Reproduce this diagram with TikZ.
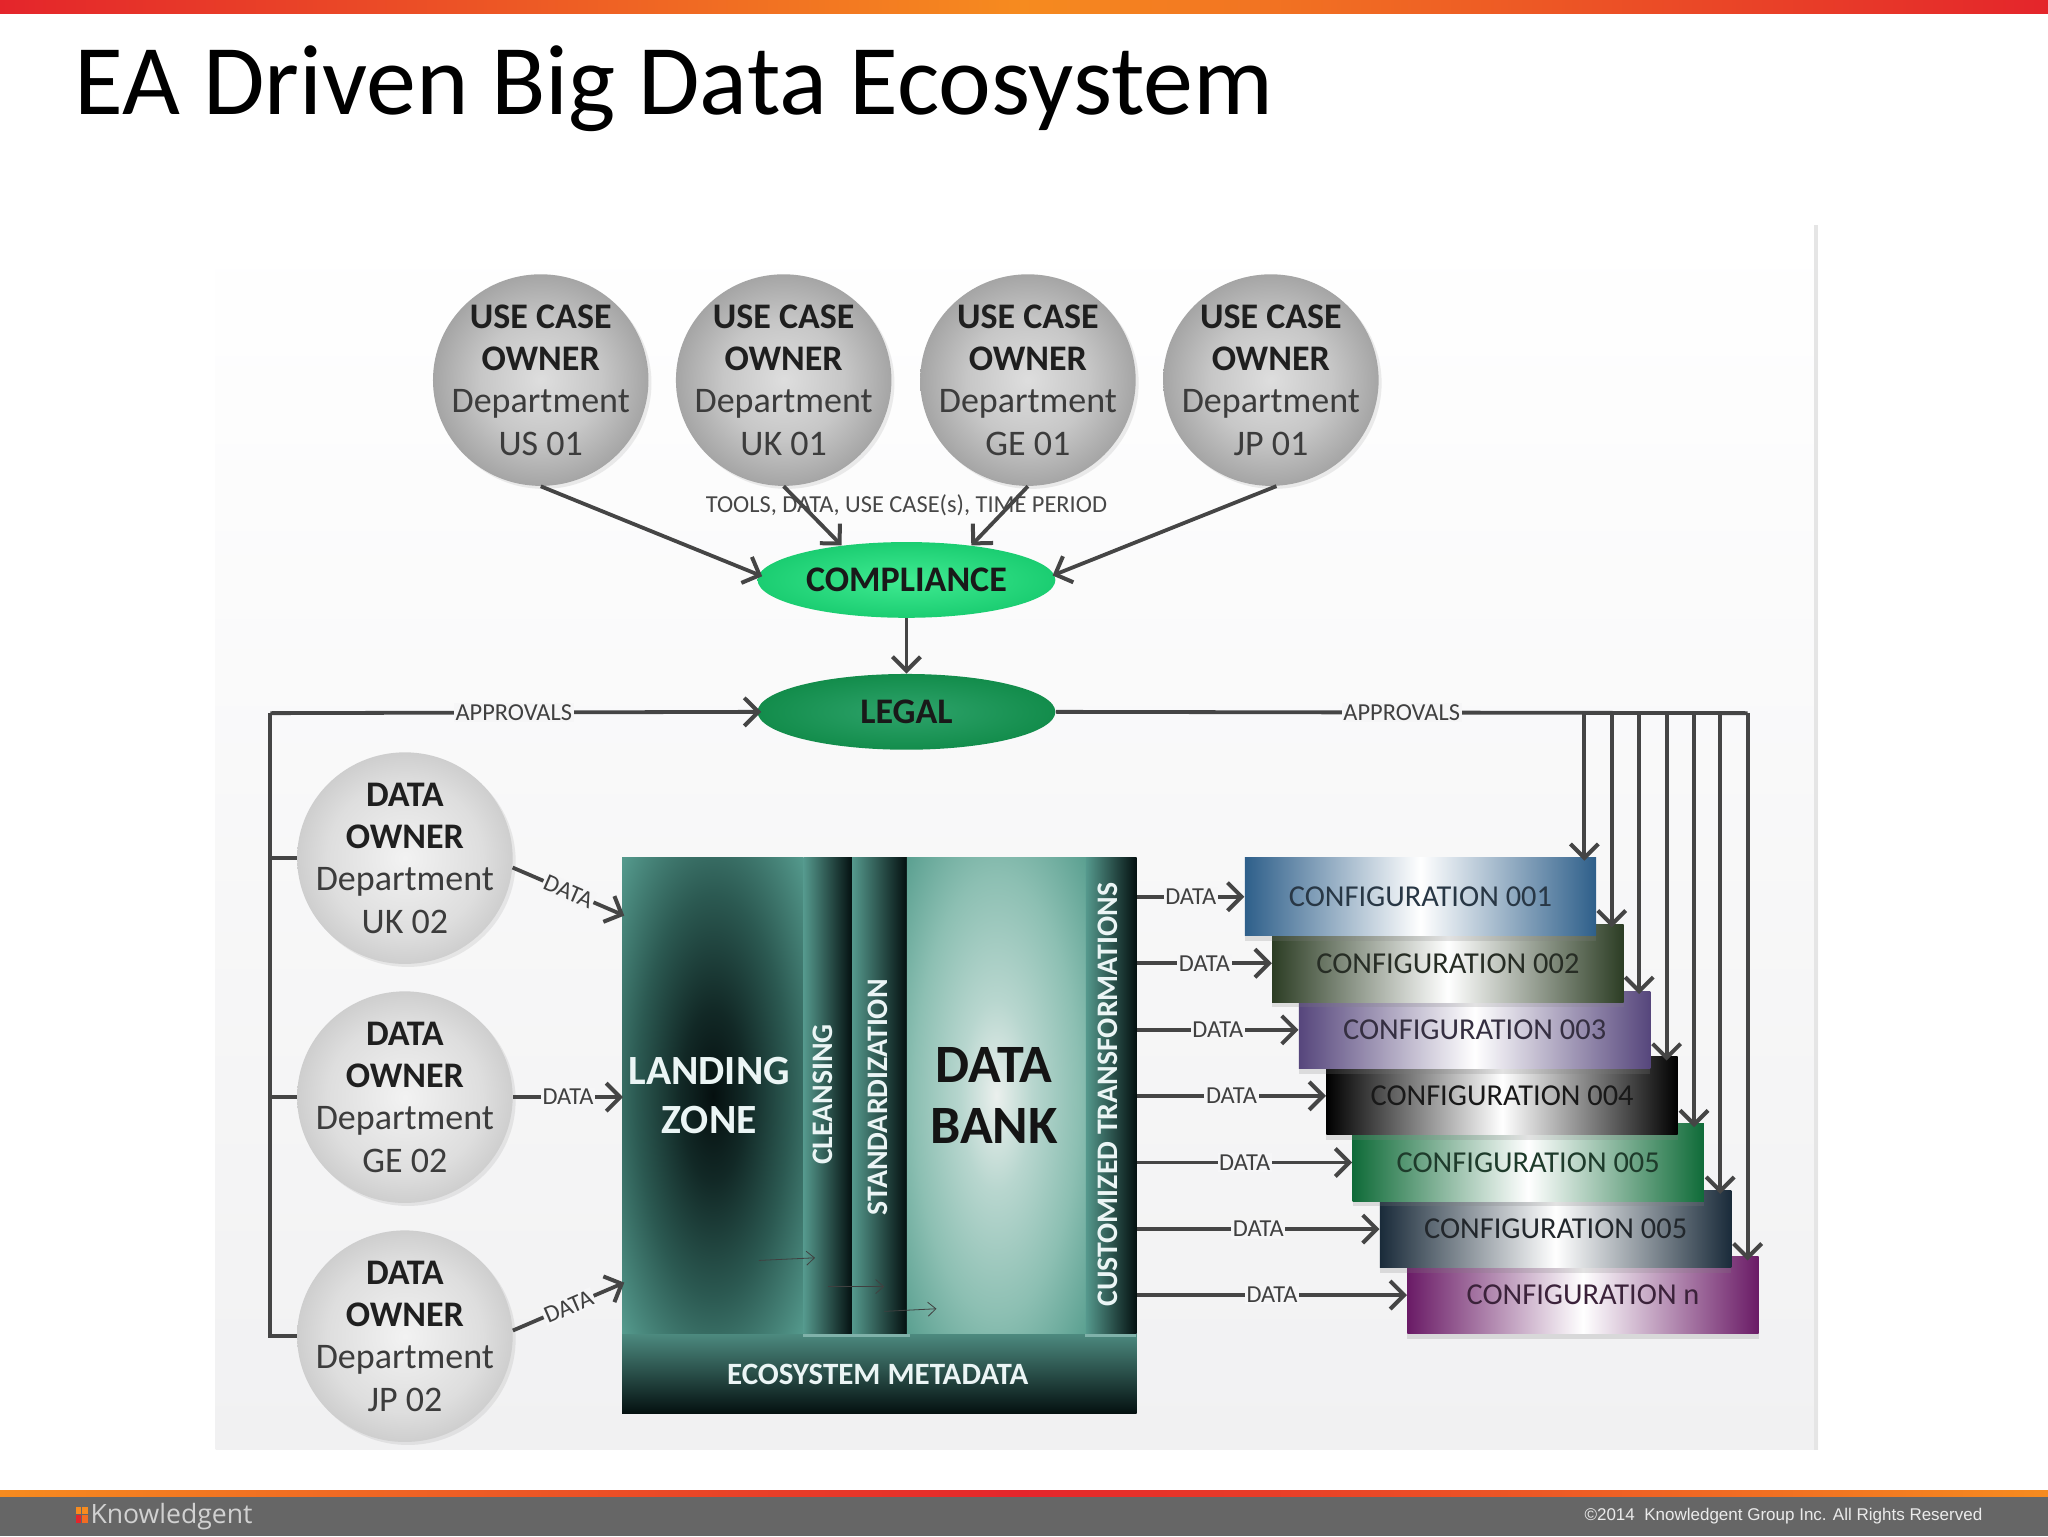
\documentclass[tikz,border=0pt]{standalone}
\usepackage{fontspec}
\setmainfont{Carlito}
\newfontfamily\footfont{Liberation Sans}
\newfontfamily\logofont{Open Sans}
\usetikzlibrary{arrows.meta,shadows,positioning,shapes.geometric}
\definecolor{panelc}{HTML}{F6F6F7}
\definecolor{panelbot}{HTML}{F1F1F2}
\definecolor{inkc}{HTML}{454545}
\definecolor{deptc}{HTML}{3C3C3C}
\definecolor{tealc}{HTML}{55998D}
\definecolor{darkc}{HTML}{041010}
\definecolor{redbar}{HTML}{E4252B}
\definecolor{orbar}{HTML}{F68B1F}
\definecolor{footc}{HTML}{666666}
\definecolor{magc}{HTML}{6A1B66}
\definecolor{navyc}{HTML}{1A2B3A}
\definecolor{greenc}{HTML}{0F6B38}
\definecolor{purpc}{HTML}{56467C}
\definecolor{olivec}{HTML}{2C3D24}
\definecolor{bluec}{HTML}{2E5F8A}
\pgfdeclareradialshading{ucball}{\pgfpoint{0bp}{0bp}}{rgb(0bp)=(0.87,0.87,0.87);rgb(14bp)=(0.78,0.78,0.78);rgb(28bp)=(0.61,0.61,0.61);rgb(35bp)=(0.52,0.52,0.52);rgb(50bp)=(0.52,0.52,0.52)}
\pgfdeclareradialshading{doball}{\pgfpoint{0bp}{0bp}}{rgb(0bp)=(0.95,0.95,0.95);rgb(18bp)=(0.87,0.87,0.87);rgb(35bp)=(0.72,0.72,0.72);rgb(50bp)=(0.72,0.72,0.72)}
\pgfdeclareradialshading{compball}{\pgfpoint{0bp}{0bp}}{rgb(0bp)=(0.25,0.92,0.57);rgb(26bp)=(0.10,0.80,0.44);rgb(32bp)=(0.30,0.88,0.55);rgb(35bp)=(0.62,0.96,0.72);rgb(50bp)=(0.62,0.96,0.72)}
\pgfdeclareradialshading{legalball}{\pgfpoint{0bp}{0bp}}{rgb(0bp)=(0.18,0.64,0.42);rgb(28bp)=(0.06,0.54,0.28);rgb(33bp)=(0.12,0.62,0.34);rgb(35bp)=(0.45,0.85,0.55);rgb(50bp)=(0.45,0.85,0.55)}
\pgfdeclareradialshading{landshade}{\pgfpoint{0bp}{0bp}}{rgb(0bp)=(0.02,0.06,0.06);rgb(9bp)=(0.07,0.16,0.15);rgb(21bp)=(0.17,0.35,0.32);rgb(35bp)=(0.33,0.60,0.55);rgb(50bp)=(0.33,0.60,0.55)}
\pgfdeclareradialshading{bankshade}{\pgfpoint{0bp}{0bp}}{rgb(0bp)=(0.92,0.94,0.93);rgb(10bp)=(0.72,0.84,0.81);rgb(23bp)=(0.55,0.75,0.70);rgb(35bp)=(0.36,0.63,0.57);rgb(50bp)=(0.36,0.63,0.57)}
\newcommand\ownerlabel[3]{\textbf{#1}\\\textbf{OWNER}\\{\color{deptc}Department}\\{\color{deptc}#2 #3}}
\def\un{0.65306pt}
\tikzset{
  ballbase/.style={shape=ellipse,inner sep=-26pt,minimum width=165*\un,minimum height=162*\un,align=center,
    font=\fontsize{18}{21.2}\selectfont,text=black!88,
    drop shadow={opacity=.15,shadow xshift=1.5pt,shadow yshift=-1.5pt}},
  ucnode/.style={ballbase,shade,shading=ucball},
  donode/.style={ballbase,shade,shading=doball},
  gate/.style={shape=ellipse,inner sep=-10pt,minimum width=228*\un,minimum height=58*\un,
    font=\fontsize{18}{20}\selectfont\bfseries,text=black!90},
  compnode/.style={gate,shade,shading=compball},
  legalnode/.style={gate,shade,shading=legalball},
  conf/.style={shape=rectangle,inner sep=0pt,minimum width=269*\un,minimum height=59.5*\un,
    font=\fontsize{15.2}{17}\selectfont,
    drop shadow={opacity=.22,shadow xshift=0pt,shadow yshift=-2.5pt}},
  conftint/.style={left color=#1,right color=#1,middle color=white,text=#1!35!black!90},
  col/.style={shape=rectangle,inner sep=0pt,anchor=north west},
  coltext/.style={inner sep=0pt,text=white!92!teal,font=\fontsize{14.9}{17}\selectfont\bfseries,rotate=90},
  link/.style={draw=inkc,line width=1.9pt,-{Straight Barb[length=7pt,width=14pt,line width=2pt]}},
  plainlink/.style={draw=inkc,line width=1.9pt},
  thinlink/.style={draw=black!75,line width=.4pt,-{Straight Barb[length=4pt,width=7pt,line width=.4pt]}},
  lab/.style={inner sep=.8pt,fill=panelc,text=black!75,font=\fontsize{12.2}{14}\selectfont},
}
\begin{document}
\begin{tikzpicture}[x=0.65306pt,y=-0.65306pt]
\useasboundingbox (0,0) rectangle (1568,1176);
% slide
\fill[white] (0,0) rectangle (1568,1176);
\shade[left color=redbar,right color=redbar,middle color=orbar] (0,0) rectangle (1568,10);
\node[anchor=base west,inner sep=0pt,font=\fontsize{50}{60}\selectfont,text=black] (title) at (57,88) {EA Driven Big Data Ecosystem};
% panel
\shade[top color=white,bottom color=panelbot] (165,172) rectangle (1392,1110);
\fill[black!10] (1389,172) rectangle (1392,1110);
% footer
\fill[footc] (0,1145) rectangle (1568,1176);
\shade[left color=orbar,right color=orbar,middle color=redbar] (0,1141) rectangle (1568,1146);
\fill[orbar] (58,1154) rectangle (62,1159);
\fill[redbar] (58,1160) rectangle (62,1166);
\fill[orbar] (63,1154) rectangle (67,1159);
\fill[orbar!70!redbar] (63,1160) rectangle (67,1166);
\node[anchor=west,inner sep=0pt,text=white!82!black,font=\logofont\fontsize{13.3}{15}\selectfont] (logo) at (69,1161) {Knowledgent};
\node[anchor=east,inner sep=0pt,text=white!92!black,font=\footfont\fontsize{8.5}{10}\selectfont] (copy) at (1518,1161) {©2014~~Knowledgent Group Inc. All Rights Reserved};
% use case owners
\node[ucnode] (uc1) at (414,291) {\ownerlabel{USE CASE}{US}{01}};
\node[ucnode] (uc2) at (600,291) {\ownerlabel{USE CASE}{UK}{01}};
\node[ucnode] (uc3) at (787,291) {\ownerlabel{USE CASE}{GE}{01}};
\node[ucnode] (uc4) at (973,291) {\ownerlabel{USE CASE}{JP}{01}};
\node[compnode] (comp) at (694,444) {COMPLIANCE};
\node[legalnode] (legal) at (694,545) {LEGAL};
\draw[link,shorten >=-2pt] (uc1.south) -- (comp.178);
\draw[link] (uc2.south) -- (comp.152);
\draw[link] (uc3.south) -- (comp.28);
\draw[link,shorten >=-1pt] (uc4.-87) -- (comp.2);
\draw[link] (comp.south) -- (legal.north);
\node[inner sep=0pt,text=black!72,font=\fontsize{12.2}{14}\selectfont] (tools) at (694,387) {TOOLS, DATA, USE CASE(s), TIME PERIOD};
% data owners
\node[donode] (do1) at (310,657) {\ownerlabel{DATA}{UK}{02}};
\node[donode] (do2) at (310,840) {\ownerlabel{DATA}{GE}{02}};
\node[donode] (do3) at (310,1023) {\ownerlabel{DATA}{JP}{02}};
\coordinate (lefttop) at (207,546);
\draw[plainlink] (do3.west) -| (lefttop);
\draw[plainlink] (do2.west) -- (do2.west -| lefttop);
\draw[plainlink] (do1.west) -- (do1.west -| lefttop);
\draw[link,shorten >=-2pt] (lefttop) -- node[lab,pos=.5]{APPROVALS} (legal.west);
% platform
\node[col,minimum width=394*\un,minimum height=61*\un,top color=tealc!90!black,bottom color=darkc] (meta) at (476,1021) {};
\node[col,minimum width=139*\un,minimum height=365*\un,shade,shading=landshade] (land) at (476,656) {};
\node[col,minimum width=37*\un,minimum height=365*\un,left color=tealc,right color=darkc] (clean) at (615,656) {};
\node[col,minimum width=42*\un,minimum height=365*\un,left color=tealc,right color=darkc] (stand) at (652,656) {};
\node[col,minimum width=137*\un,minimum height=365*\un,shade,shading=bankshade] (bank) at (694,656) {};
\node[col,minimum width=39*\un,minimum height=365*\un,left color=tealc,right color=darkc] (cust) at (831,656) {};
\fill[tealc!75!white] (615,1021) rectangle (697,1024);
\fill[tealc!75!white] (831,1021) rectangle (870,1024);
\node[inner sep=0pt,align=center,text=white!92!teal,font=\fontsize{20.8}{24.5}\selectfont\bfseries] (landt) at (543,839) {LANDING\\ZONE};
\node[inner sep=0pt,align=center,text=black!92,font=\fontsize{27}{30.5}\selectfont\bfseries] (bankt) at (761,839) {DATA\\BANK};
\node[coltext] (cleant) at (630,838) {CLEANSING};
\node[coltext] (standt) at (672,840) {STANDARDIZATION};
\node[coltext] (custt) at (848,838) {CUSTOMIZED TRANSFORMATIONS};
\node[inner sep=0pt,text=white!92!teal,font=\fontsize{15.5}{17}\selectfont\bfseries] (metat) at (672,1052) {ECOSYSTEM METADATA};
\coordinate (fa) at (581,965); \coordinate (fb) at (624,963);
\coordinate (fc) at (634,985); \coordinate (fd) at (677,985);
\coordinate (fe) at (677,1004); \coordinate (ff) at (717,1002);
\draw[thinlink] (fa) -- (fb);
\draw[thinlink] (fc) -- (fd);
\draw[thinlink] (fe) -- (ff);
% data owner to platform
\coordinate (in1) at (478,701);
\coordinate (in2) at (477,840);
\coordinate (in3) at (478,982);
\draw[link] (do1.-5) -- node[lab,sloped,pos=.5]{DATA} (in1);
\draw[link] (do2.east) -- node[lab,pos=.5]{DATA} (in2);
\draw[link] (do3.3) -- node[lab,sloped,pos=.5]{DATA} (in3);
% configurations (later ones lie behind earlier ones)
\node[conf,conftint=magc] (c7) at (1212,991.5) {CONFIGURATION n};
\node[conf,conftint=navyc] (c6) at (1191,941) {CONFIGURATION 005};
\node[conf,conftint=greenc] (c5) at (1170,890) {CONFIGURATION 005};
\node[conf,conftint=black] (c4) at (1150,839) {CONFIGURATION 004};
\node[conf,conftint=purpc] (c3) at (1129,788.5) {CONFIGURATION 003};
\node[conf,conftint=olivec] (c2) at (1108.5,737.5) {CONFIGURATION 002};
\node[conf,conftint=bluec] (c1) at (1087.5,686.5) {CONFIGURATION 001};
% data to configurations
\foreach \n in {1,...,7}{
  \draw[link] (cust.east |- c\n.west) -- node[lab,pos=.5]{DATA} (c\n.west);
}
% approvals right
\coordinate (rcorner) at (1338,546);
\coordinate (r1) at (1213,546);
\coordinate (r2) at (1234,546);
\coordinate (r3) at (1255,546);
\coordinate (r4) at (1276,546);
\coordinate (r5) at (1297,546);
\coordinate (r6) at (1317,546);
\draw[plainlink] (legal.east) -- node[lab,pos=.5]{APPROVALS} (rcorner);
\coordinate (t1) at (1213,659);
\coordinate (t2) at (1234,710);
\coordinate (t3) at (1255,761);
\coordinate (t4) at (1276,812);
\coordinate (t5) at (1297,863);
\coordinate (t6) at (1317,914);
\coordinate (t7) at (1338,965);
\draw[link] (r1) -- (t1);
\draw[link] (r2) -- (t2);
\draw[link] (r3) -- (t3);
\draw[link] (r4) -- (t4);
\draw[link] (r5) -- (t5);
\draw[link] (r6) -- (t6);
\draw[link] (rcorner) -- (t7);
\end{tikzpicture}
\end{document}
